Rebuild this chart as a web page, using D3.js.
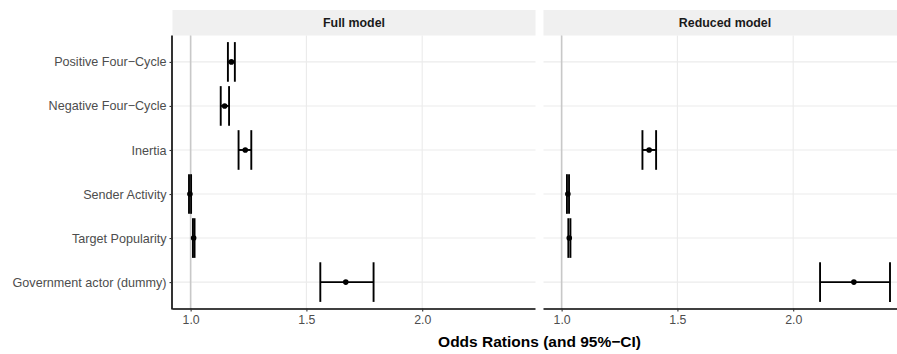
<!DOCTYPE html>
<html>
<head>
<meta charset="utf-8">
<script src="https://cdn.jsdelivr.net/npm/d3@7"></script>
<style>
  body { margin: 0; background: #fff; }
  svg { display: block; font-family: "Liberation Sans", Arial, Helvetica, sans-serif; }
</style>
</head>
<body>
<svg id="chart"></svg>
<script>
// terms, top to bottom
const terms = [
    "Positive Four\u2212Cycle",
    "Negative Four\u2212Cycle",
    "Inertia",
    "Sender Activity",
    "Target Popularity",
    "Government actor (dummy)"
];
const models = ["Full model", "Reduced model"];

// odds ratios with 95% CI (null = term not in model)
const fullOR    = [1.176, 1.147, 1.236, 0.997, 1.013, 1.670];
const fullLow   = [1.161, 1.130, 1.207, 0.993, 1.010, 1.560];
const fullHigh  = [1.191, 1.166, 1.262, 1.002, 1.017, 1.790];
const redOR     = [null, null, 1.378, 1.027, 1.033, 2.262];
const redLow    = [null, null, 1.349, 1.023, 1.029, 2.116];
const redHigh   = [null, null, 1.408, 1.032, 1.038, 2.418];

const xTicks = [1.0, 1.5, 2.0];

const width = 897, height = 354;
const margin = { top: 35.5, bottom: 45.5, left: 172.5 };
const panelW = 363;
const panelGap = 8;
const stripH = 25.5;
const panelH = height - margin.top - margin.bottom;

const svg = d3.select("#chart").attr("width", width).attr("height", height);

// build rows for each panel
const panels = [
    terms.map((t, i) => ({ term: t, or: fullOR[i], lo: fullLow[i], hi: fullHigh[i] })),
    terms.map((t, i) => ({ term: t, or: redOR[i], lo: redLow[i], hi: redHigh[i] })).filter(d => d.or !== null)
];

// shared x scale with ggplot-ish 5% expansion
const allVals = panels.flat().flatMap(d => [d.lo, d.hi]);
const [mn, mx] = d3.extent(allVals);
const pad = (mx - mn) * 0.05;
const x = d3.scaleLinear().domain([mn - pad, mx + pad]).range([0, panelW]);
const y = d3.scalePoint().domain(terms).range([0, panelH]).padding(0.6);
const capHalf = y.step() * 0.45;
const lw = 1.9;

models.forEach((m, p) => {
    const left = margin.left + p * (panelW + panelGap);
    const g = svg.append("g").attr("transform", `translate(${left},${margin.top})`);

    // strip
    g.append("rect")
        .attr("x", 0).attr("y", -stripH)
        .attr("width", panelW).attr("height", stripH)
        .attr("fill", "#f0f0f0");
    g.append("text")
        .attr("x", panelW / 2).attr("y", -stripH / 2 + 4.5)
        .attr("text-anchor", "middle")
        .attr("font-size", 12.4).attr("font-weight", "bold")
        .attr("fill", "#1a1a1a")
        .text(m);

    // grid
    g.selectAll(".hgrid").data(terms).join("line")
        .attr("x1", 0).attr("x2", panelW)
        .attr("y1", d => y(d)).attr("y2", d => y(d))
        .attr("stroke", "#ebebeb").attr("stroke-width", 1.1);
    g.selectAll(".vgrid").data(xTicks).join("line")
        .attr("x1", d => x(d)).attr("x2", d => x(d))
        .attr("y1", 0).attr("y2", panelH)
        .attr("stroke", "#ebebeb").attr("stroke-width", 1.1);

    // reference line at 1
    g.append("line")
        .attr("x1", x(1)).attr("x2", x(1))
        .attr("y1", 0).attr("y2", panelH)
        .attr("stroke", "#c8c8c8").attr("stroke-width", 1.6);

    // x axis
    const xa = g.append("g").attr("transform", `translate(0,${panelH})`)
        .call(d3.axisBottom(x).tickValues(xTicks).tickFormat(d3.format(".1f")).tickSize(3).tickPadding(4));
    xa.select(".domain").attr("stroke", "#000").attr("stroke-width", 1.6).attr("d", `M0,0.5H${panelW}`);
    xa.selectAll(".tick line").attr("stroke", "#333").attr("stroke-width", 1.1);
    xa.selectAll(".tick text").attr("fill", "#4d4d4d").attr("font-size", 12.3)
        .attr("font-family", "Liberation Sans, Arial, sans-serif");

    // y axis only on first panel
    if (p === 0) {
        const ya = g.append("g")
            .call(d3.axisLeft(y).tickSize(3).tickPadding(3));
        ya.select(".domain").attr("stroke", "#000").attr("stroke-width", 1.6).attr("d", `M-0.5,0V${panelH + 1}`);
        ya.selectAll(".tick line").attr("stroke", "#333").attr("stroke-width", 1.1);
        ya.selectAll(".tick text").attr("fill", "#4d4d4d").attr("font-size", 12.6)
            .attr("font-family", "Liberation Sans, Arial, sans-serif");
    }

    const rows = panels[p];
    // error bars
    const eb = g.selectAll(".eb").data(rows).join("g");
    eb.append("line")
        .attr("x1", d => x(d.lo)).attr("x2", d => x(d.hi))
        .attr("y1", d => y(d.term)).attr("y2", d => y(d.term))
        .attr("stroke", "#000").attr("stroke-width", lw);
    eb.append("line")
        .attr("x1", d => x(d.lo)).attr("x2", d => x(d.lo))
        .attr("y1", d => y(d.term) - capHalf).attr("y2", d => y(d.term) + capHalf)
        .attr("stroke", "#000").attr("stroke-width", lw);
    eb.append("line")
        .attr("x1", d => x(d.hi)).attr("x2", d => x(d.hi))
        .attr("y1", d => y(d.term) - capHalf).attr("y2", d => y(d.term) + capHalf)
        .attr("stroke", "#000").attr("stroke-width", lw);
    // points
    g.selectAll(".pt").data(rows).join("circle")
        .attr("cx", d => x(d.or)).attr("cy", d => y(d.term))
        .attr("r", 2.8).attr("fill", "#000");
});

// x title centred over both panels
svg.append("text")
    .attr("x", margin.left + (2 * panelW + panelGap) / 2)
    .attr("y", 347)
    .attr("text-anchor", "middle")
    .attr("font-size", 15.5).attr("font-weight", "bold")
    .attr("fill", "#000")
    .text("Odds Rations (and 95%\u2212CI)");
</script>
</body>
</html>
